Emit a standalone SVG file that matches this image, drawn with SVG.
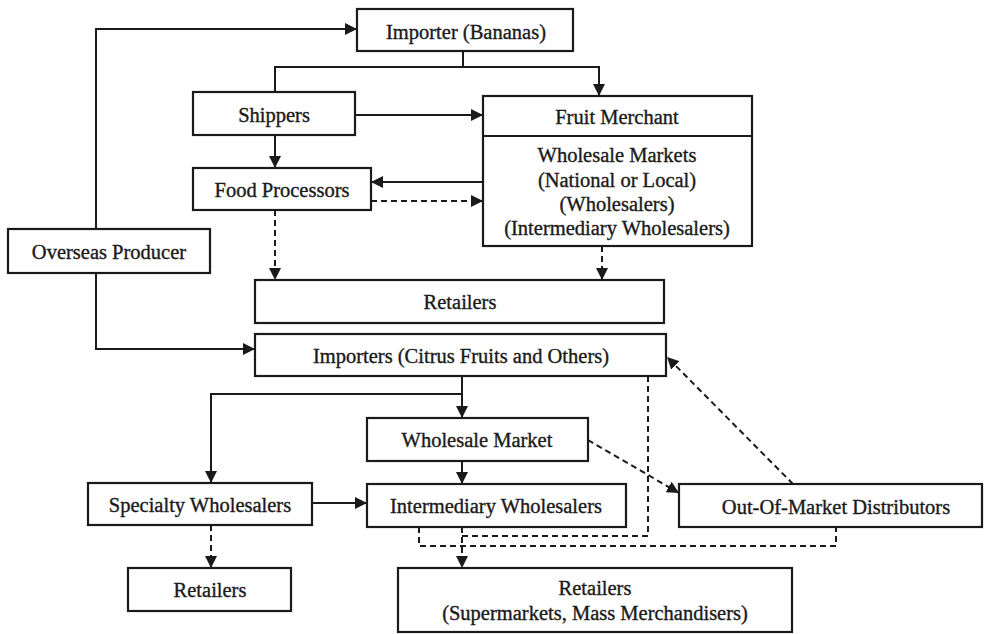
<svg xmlns="http://www.w3.org/2000/svg" width="984" height="634" viewBox="0 0 984 634">
<defs>
<style>
.box{fill:#fff;stroke:#1a1a1a;stroke-width:2.2}
.t{font-family:"Liberation Serif","Times New Roman",serif;font-size:20.5px;fill:#1a1a1a;text-anchor:middle;stroke:#1a1a1a;stroke-width:0.35}
.c{fill:none;stroke:#1a1a1a;stroke-width:2}
.d{fill:none;stroke:#1a1a1a;stroke-width:2;stroke-dasharray:6 4}
</style>
<marker id="ah" viewBox="0 0 12 12" refX="12" refY="6" markerWidth="12" markerHeight="12" markerUnits="userSpaceOnUse" orient="auto">
<path d="M0,0 L12,6 L0,12 Z" fill="#1a1a1a"/>
</marker>
</defs>
<rect width="984" height="634" fill="#fff"/>
<g id="connectors">
<path class="c" d="M96,229 V29 H357" marker-end="url(#ah)"/>
<path class="c" d="M463,51 V67"/>
<path class="c" d="M275,92 V67 H599 V96" marker-end="url(#ah)"/>
<path class="c" d="M355,115 H483" marker-end="url(#ah)"/>
<path class="c" d="M275,135 V168" marker-end="url(#ah)"/>
<path class="c" d="M483,182 H371" marker-end="url(#ah)"/>
<path class="d" d="M371,201 H483" marker-end="url(#ah)"/>
<path class="d" d="M275,210 V280" marker-end="url(#ah)"/>
<path class="d" d="M602,246 V280" marker-end="url(#ah)"/>
<path class="c" d="M96,273 V349 H255" marker-end="url(#ah)"/>
<path class="c" d="M462,376 V418" marker-end="url(#ah)"/>
<path class="c" d="M462,394 H211 V483" marker-end="url(#ah)"/>
<path class="c" d="M462,461 V484" marker-end="url(#ah)"/>
<path class="c" d="M312,503 H367" marker-end="url(#ah)"/>
<path class="d" d="M211,525 V568" marker-end="url(#ah)"/>
<path class="d" d="M588,440 L679,493" marker-end="url(#ah)"/>
<path class="d" d="M793,484 L667,357" marker-end="url(#ah)"/>
<path class="d" d="M648,376 V536 H462"/>
<path class="d" d="M462,527 V568" marker-end="url(#ah)"/>
<path class="d" d="M419,527 V546 H836 V527"/>
</g>
<g id="importer-bananas"><rect class="box" x="357" y="9" width="216" height="42"/><text class="t" x="466" y="39">Importer (Bananas)</text></g>
<g id="shippers"><rect class="box" x="193" y="92" width="162" height="43"/><text class="t" x="274" y="122">Shippers</text></g>
<g id="fruit-merchant"><rect class="box" x="483" y="96" width="269" height="150"/><line class="box" x1="483" y1="136" x2="752" y2="136"/><text class="t" x="617" y="124">Fruit Merchant</text><text class="t" x="617" y="162">Wholesale Markets</text><text class="t" x="617" y="187">(National or Local)</text><text class="t" x="617" y="211">(Wholesalers)</text><text class="t" x="617" y="235">(Intermediary Wholesalers)</text></g>
<g id="food-processors"><rect class="box" x="193" y="168" width="178" height="42"/><text class="t" x="282" y="197">Food Processors</text></g>
<g id="overseas-producer"><rect class="box" x="8" y="229" width="202" height="44"/><text class="t" x="109" y="259">Overseas Producer</text></g>
<g id="retailers-top"><rect class="box" x="255" y="280" width="409" height="43"/><text class="t" x="460" y="309">Retailers</text></g>
<g id="importers-citrus"><rect class="box" x="255" y="334" width="411" height="42"/><text class="t" x="461" y="363">Importers (Citrus Fruits and Others)</text></g>
<g id="wholesale-market"><rect class="box" x="367" y="418" width="221" height="43"/><text class="t" x="477" y="447">Wholesale Market</text></g>
<g id="specialty-wholesalers"><rect class="box" x="88" y="483" width="224" height="42"/><text class="t" x="200" y="512">Specialty Wholesalers</text></g>
<g id="intermediary-wholesalers"><rect class="box" x="367" y="484" width="259" height="43"/><text class="t" x="496" y="513">Intermediary Wholesalers</text></g>
<g id="out-of-market"><rect class="box" x="679" y="484" width="303" height="43"/><text class="t" x="836" y="514">Out-Of-Market Distributors</text></g>
<g id="retailers-left"><rect class="box" x="128" y="568" width="163" height="43"/><text class="t" x="210" y="597">Retailers</text></g>
<g id="retailers-super"><rect class="box" x="398" y="568" width="394" height="64"/><text class="t" x="595" y="595">Retailers</text><text class="t" x="595" y="620">(Supermarkets, Mass Merchandisers)</text></g>
</svg>
